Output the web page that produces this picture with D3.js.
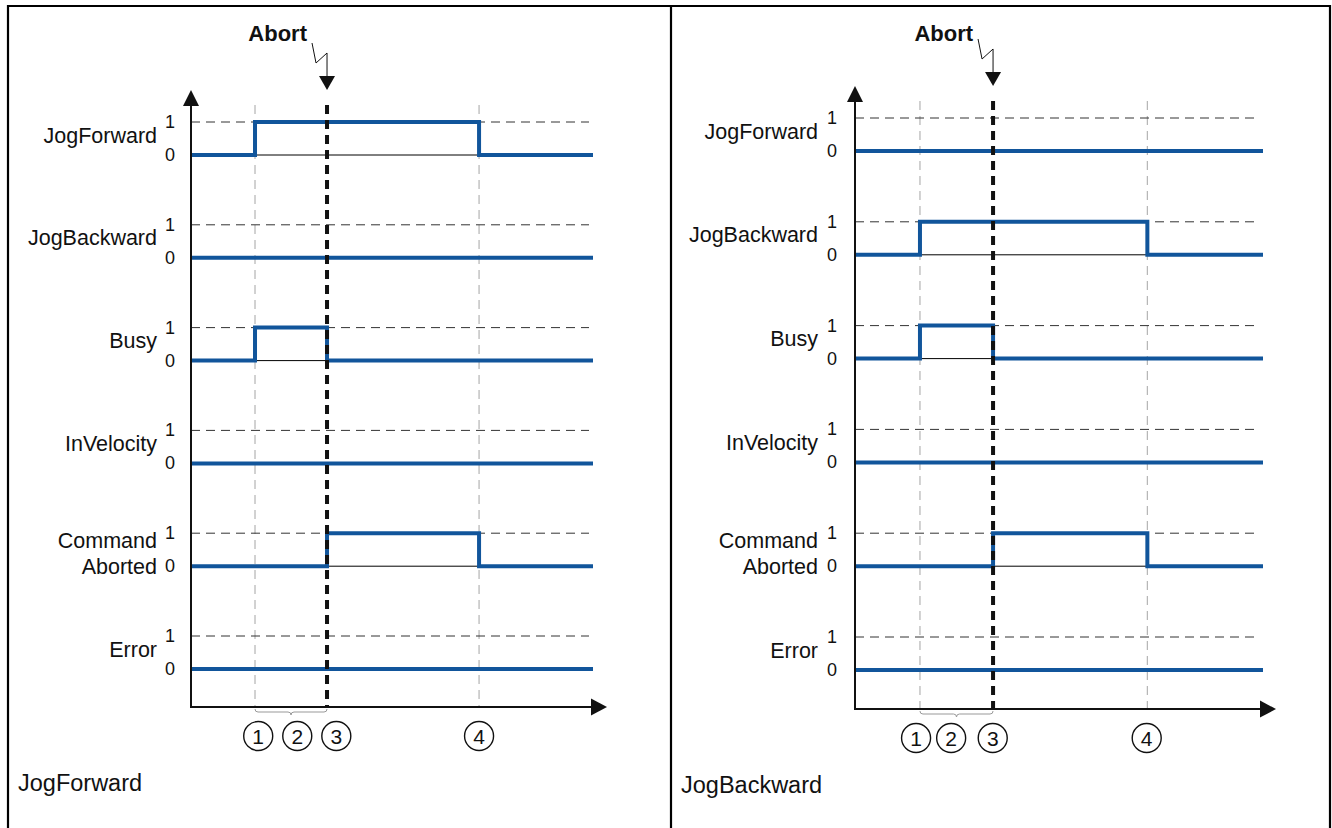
<!DOCTYPE html>
<html>
<head>
<meta charset="utf-8">
<script src="https://cdn.jsdelivr.net/npm/d3@7"></script>
<style>
  html, body { margin: 0; padding: 0; background: #fff; }
  svg { display: block; font-family: "Liberation Sans", Arial, sans-serif; }
</style>
</head>
<body>
<svg id="chart" width="1332" height="828"></svg>
<script>
// signal names, one row each (multi-line names as arrays)
const signalNames = ["JogForward", "JogBackward", "Busy", "InVelocity", ["Command", "Aborted"], "Error"];

// event times: start, (1) start jog, (3) abort, (4) jog released, end
const eventTimes = [0, 1, 2.125, 4.5, 6.28];

// signal levels for each interval between event times
const forwardLevels = [
  [0, 1, 1, 0],   // JogForward
  [0, 0, 0, 0],   // JogBackward
  [0, 1, 0, 0],   // Busy
  [0, 0, 0, 0],   // InVelocity
  [0, 0, 1, 0],   // CommandAborted
  [0, 0, 0, 0]    // Error
];
const backwardLevels = [
  [0, 0, 0, 0],
  [0, 1, 1, 0],
  [0, 1, 0, 0],
  [0, 0, 0, 0],
  [0, 0, 1, 0],
  [0, 0, 0, 0]
];

// guide lines and numbered markers
const guideTimes = [1, 4.5];
const abortTime = 2.125;
const markerLabels = ["1", "2", "3", "4"];
const forwardMarkerTimes = [1.05, 1.66, 2.27, 4.5];
const backwardMarkerTimes = [0.94, 1.48, 2.12, 4.49];
const braceTimes = [1, 2.125];

const panels = [
  { title: "JogForward", levels: forwardLevels, markers: forwardMarkerTimes,
    x0: 191, x1: 593, arrowX: 607, axisY: 707, tipY: 90, rowTop: 122, rowBottom: 636,
    labelRight: 157, tickX: 170, circleY: 736, titleX: 18, titleY: 791 },
  { title: "JogBackward", levels: backwardLevels, markers: backwardMarkerTimes,
    x0: 855, x1: 1263, arrowX: 1276, axisY: 709, tipY: 86, rowTop: 118, rowBottom: 637,
    labelRight: 818, tickX: 832, circleY: 738, titleX: 681, titleY: 793 }
];

const svg = d3.select("#chart");
const blue = "#11559b";

// outer frame
const frame = svg.append("g").attr("fill", "none").attr("stroke", "#000").attr("stroke-width", 2.2);
frame.append("path").attr("d", "M8,840 V6 H1330 V840");
frame.append("line").attr("x1", 671).attr("x2", 671).attr("y1", 6).attr("y2", 840);

panels.forEach(p => drawPanel(svg.append("g"), p));

function drawPanel(g, p) {
  const x = d3.scaleLinear().domain([eventTimes[0], eventTimes[eventTimes.length - 1]]).range([p.x0, p.x1]);
  const rows = d3.scalePoint().domain(d3.range(signalNames.length)).range([p.rowTop, p.rowBottom]);
  const amp = 33;
  const vTop = p.tipY + 15;

  // thin vertical guides
  g.selectAll("line.guide").data(guideTimes).join("line")
    .attr("class", "guide")
    .attr("x1", d => x(d)).attr("x2", d => x(d))
    .attr("y1", vTop).attr("y2", p.axisY)
    .attr("stroke", "#b4b4b4").attr("stroke-width", 1.2)
    .attr("stroke-dasharray", "9,6");

  // dashed "1" level lines
  g.selectAll("line.one").data(signalNames).join("line")
    .attr("class", "one")
    .attr("x1", p.x0).attr("x2", p.x1 - 4)
    .attr("y1", (d, i) => rows(i)).attr("y2", (d, i) => rows(i))
    .attr("stroke", "#333").attr("stroke-width", 1)
    .attr("stroke-dasharray", "9,6");

  signalNames.forEach((name, i) => {
    const y = d3.scaleLinear().domain([0, 1]).range([rows(i) + amp, rows(i)]);
    const lv = p.levels[i];

    // thin baseline under high pulses
    lv.forEach((v, k) => {
      if (v === 1) {
        g.append("line")
          .attr("x1", x(eventTimes[k])).attr("x2", x(eventTimes[k + 1]))
          .attr("y1", y(0)).attr("y2", y(0))
          .attr("stroke", "#000").attr("stroke-width", 1);
      }
    });

    const pts = lv.map((v, k) => [eventTimes[k], v]);
    pts.push([eventTimes[eventTimes.length - 1], lv[lv.length - 1]]);
    const line = d3.line().x(d => x(d[0])).y(d => y(d[1])).curve(d3.curveStepAfter);
    g.append("path").attr("d", line(pts))
      .attr("fill", "none").attr("stroke", blue).attr("stroke-width", 4);

    // tick labels
    g.append("text").attr("x", p.tickX).attr("y", y(1) + 6)
      .attr("text-anchor", "middle").attr("font-size", 18).attr("fill", "#111").text("1");
    g.append("text").attr("x", p.tickX).attr("y", y(0) + 6)
      .attr("text-anchor", "middle").attr("font-size", 18).attr("fill", "#111").text("0");

    // signal name
    const lab = g.append("text").attr("text-anchor", "end").attr("font-size", 21.5).attr("fill", "#111");
    if (Array.isArray(name)) {
      lab.append("tspan").attr("x", p.labelRight).attr("y", rows(i) + 14.5).text(name[0]);
      lab.append("tspan").attr("x", p.labelRight).attr("y", rows(i) + 40.5).text(name[1]);
    } else {
      lab.attr("x", p.labelRight).attr("y", rows(i) + 20.5).text(name);
    }
  });

  // abort line
  const ax = x(abortTime);
  g.append("line")
    .attr("x1", ax).attr("x2", ax).attr("y1", vTop).attr("y2", p.axisY)
    .attr("stroke", "#111").attr("stroke-width", 4)
    .attr("stroke-dasharray", "9,6");

  // axes
  g.append("line").attr("x1", p.x0).attr("x2", p.x0).attr("y1", p.tipY + 10).attr("y2", p.axisY + 1)
    .attr("stroke", "#111").attr("stroke-width", 2);
  g.append("line").attr("x1", p.x0 - 1).attr("x2", p.arrowX - 10).attr("y1", p.axisY).attr("y2", p.axisY)
    .attr("stroke", "#111").attr("stroke-width", 2);
  g.append("path")
    .attr("d", `M${p.x0},${p.tipY} L${p.x0 - 8},${p.tipY + 16} L${p.x0 + 8},${p.tipY + 16} Z`)
    .attr("fill", "#111");
  g.append("path")
    .attr("d", `M${p.arrowX},${p.axisY} L${p.arrowX - 16},${p.axisY - 8.5} L${p.arrowX - 16},${p.axisY + 8.5} Z`)
    .attr("fill", "#111");

  // brace under the first interval
  const bx0 = x(braceTimes[0]), bx1 = x(braceTimes[1]), bm = (bx0 + bx1) / 2, by = p.axisY + 2;
  g.append("path")
    .attr("d", `M${bx0},${by} q0,3 3,3 H${bm - 3} q3,0 3,3 q0,-3 3,-3 H${bx1 - 3} q3,0 3,-3`)
    .attr("fill", "none").attr("stroke", "#999").attr("stroke-width", 1);

  // numbered markers
  const mk = g.selectAll("g.marker").data(p.markers).join("g")
    .attr("class", "marker")
    .attr("transform", d => `translate(${x(d)},${p.circleY})`);
  mk.append("circle").attr("r", 14.5).attr("fill", "none").attr("stroke", "#111").attr("stroke-width", 1.4);
  mk.append("text").attr("text-anchor", "middle").attr("y", 7.5).attr("font-size", 21).attr("fill", "#111")
    .text((d, i) => markerLabels[i]);

  // abort annotation
  g.append("text").attr("x", ax - 20).attr("y", 41).attr("text-anchor", "end")
    .attr("font-size", 22).attr("font-weight", "bold").attr("fill", "#111").text("Abort");
  g.append("path")
    .attr("d", `M${ax - 15},${p.tipY - 47} L${ax - 11},${p.tipY - 27} L${ax},${p.tipY - 37} V${p.tipY - 12}`)
    .attr("fill", "none").attr("stroke", "#111").attr("stroke-width", 1);
  g.append("path")
    .attr("d", `M${ax},${p.tipY} L${ax - 8},${p.tipY - 14} L${ax + 8},${p.tipY - 14} Z`)
    .attr("fill", "#111");

  // panel title
  g.append("text").attr("x", p.titleX).attr("y", p.titleY)
    .attr("font-size", 23.5).attr("fill", "#111").text(p.title);
}
</script>
</body>
</html>
